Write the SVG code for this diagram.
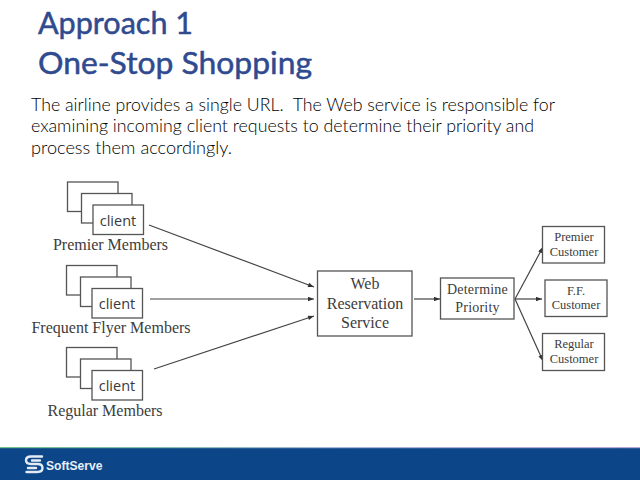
<svg xmlns="http://www.w3.org/2000/svg" width="640" height="480" viewBox="0 0 640 480">
  <style>
    .title { font: 400 31px "Lato", "Open Sans", sans-serif; fill: #2f4a8f; stroke: #2f4a8f; stroke-width: 0.5; }
    .body { font: 300 18px "Lato", "Open Sans", sans-serif; fill: #000000; }
    .box { fill: #ffffff; stroke: #555555; stroke-width: 1.3; }
    .client { font: 400 14.5px "Open Sans", "Lato", sans-serif; fill: #3a3a3a; text-anchor: middle; }
    .serif { font-family: "Liberation Serif", "Times New Roman", serif; fill: #3c3c3c; text-anchor: middle; }
    .caption { font-size: 16px; }
    .big { font-size: 16px; }
    .mid { font-size: 14px; letter-spacing: 0.2px; }
    .small { font-size: 12.5px; }
    .wire { fill: none; stroke: #444444; stroke-width: 1.2; marker-end: url(#tip); }
  </style>
  <defs>
    <marker id="tip" viewBox="0 0 8 6" refX="8" refY="3" markerWidth="7" markerHeight="4.500" markerUnits="userSpaceOnUse" orient="auto">
      <path d="M0 0L8 3L0 6z" fill="#333333"/>
    </marker>
    <linearGradient id="rule" x1="0" x2="1" y1="0" y2="0">
      <stop offset="0" stop-color="#6fc08a"/>
      <stop offset="0.5" stop-color="#a5b8d8"/>
      <stop offset="1" stop-color="#b9a6d6"/>
    </linearGradient>
  </defs>

  <rect width="640" height="480" fill="#ffffff"/>

  <g id="heading">
    <text class="title" x="38" y="34" textLength="155" lengthAdjust="spacingAndGlyphs">Approach 1</text>
    <text class="title" x="38" y="74" textLength="274" lengthAdjust="spacingAndGlyphs">One-Stop Shopping</text>
  </g>

  <g id="intro">
    <text class="body" x="31" y="111" textLength="524" lengthAdjust="spacingAndGlyphs" xml:space="preserve">The airline provides a single URL.  The Web service is responsible for</text>
    <text class="body" x="31" y="132" textLength="503" lengthAdjust="spacingAndGlyphs">examining incoming client requests to determine their priority and</text>
    <text class="body" x="31" y="154" textLength="201" lengthAdjust="spacingAndGlyphs">process them accordingly.</text>
  </g>

  <g id="connectors">
    <line class="wire" x1="149" y1="225" x2="314" y2="287"/>
    <line class="wire" x1="150" y1="299" x2="314" y2="299"/>
    <line class="wire" x1="154" y1="369" x2="314" y2="316"/>
    <line class="wire" x1="414" y1="299" x2="440" y2="299"/>
    <line class="wire" x1="515" y1="299" x2="543" y2="247"/>
    <line class="wire" x1="515" y1="299" x2="542" y2="299"/>
    <line class="wire" x1="515" y1="299" x2="543" y2="361"/>
  </g>

  <g id="premier-members">
    <rect class="box" x="67.500" y="182" width="50.500" height="29.500"/>
    <rect class="box" x="81.500" y="193.500" width="50.500" height="29.500"/>
    <rect class="box" x="93" y="205" width="50.500" height="29.500"/>
    <text class="client" x="118" y="226">client</text>
    <text class="serif caption" x="110.500" y="250">Premier Members</text>
  </g>

  <g id="frequent-flyer-members">
    <rect class="box" x="66.500" y="265.500" width="50.500" height="29.500"/>
    <rect class="box" x="80.500" y="277" width="50.500" height="29.500"/>
    <rect class="box" x="92" y="288.500" width="50.500" height="29.500"/>
    <text class="client" x="117" y="309">client</text>
    <text class="serif caption" x="111" y="333">Frequent Flyer Members</text>
  </g>

  <g id="regular-members">
    <rect class="box" x="66.500" y="347.500" width="50.500" height="29.500"/>
    <rect class="box" x="80.500" y="359" width="50.500" height="29.500"/>
    <rect class="box" x="92" y="370.500" width="50.500" height="29.500"/>
    <text class="client" x="117" y="391">client</text>
    <text class="serif caption" x="105" y="416">Regular Members</text>
  </g>

  <g id="web-reservation-service">
    <rect class="box" x="317.500" y="271" width="94.500" height="65"/>
    <text class="serif big" x="365" y="289">Web</text>
    <text class="serif big" x="365" y="308.500">Reservation</text>
    <text class="serif big" x="365" y="328">Service</text>
  </g>

  <g id="determine-priority">
    <rect class="box" x="440.500" y="278" width="73.500" height="41"/>
    <text class="serif mid" x="477.500" y="294">Determine</text>
    <text class="serif mid" x="477.500" y="312">Priority</text>
  </g>

  <g id="premier-customer">
    <rect class="box" x="542.500" y="226.500" width="62" height="36.500"/>
    <text class="serif small" x="574" y="241">Premier</text>
    <text class="serif small" x="574" y="256">Customer</text>
  </g>

  <g id="ff-customer">
    <rect class="box" x="545" y="280" width="62" height="36.500"/>
    <text class="serif small" x="576" y="295">F.F.</text>
    <text class="serif small" x="576" y="309">Customer</text>
  </g>

  <g id="regular-customer">
    <rect class="box" x="542.500" y="333.500" width="62" height="37"/>
    <text class="serif small" x="574" y="348">Regular</text>
    <text class="serif small" x="574" y="363">Customer</text>
  </g>

  <g id="footer">
    <rect x="0" y="447" width="640" height="33" fill="#0c4689"/>
    <rect x="0" y="447" width="640" height="1.200" fill="url(#rule)"/>
    <g fill="none" stroke="#e4ebf3" stroke-width="2.400" stroke-linecap="round">
      <path d="M42 456.500H31Q26 456.500 26 460.300Q26 464 31 464H37.500Q42.500 464 42.500 468Q42.500 472 37.500 472H26.500"/>
      <path d="M40 460.500H32M28 468H36"/>
    </g>
    <text x="46" y="469.500" font-family="Liberation Sans, Arial, sans-serif" font-weight="700" font-size="12.500" fill="#e8eef5" textLength="56.500" lengthAdjust="spacingAndGlyphs">SoftServe</text>
  </g>
</svg>
